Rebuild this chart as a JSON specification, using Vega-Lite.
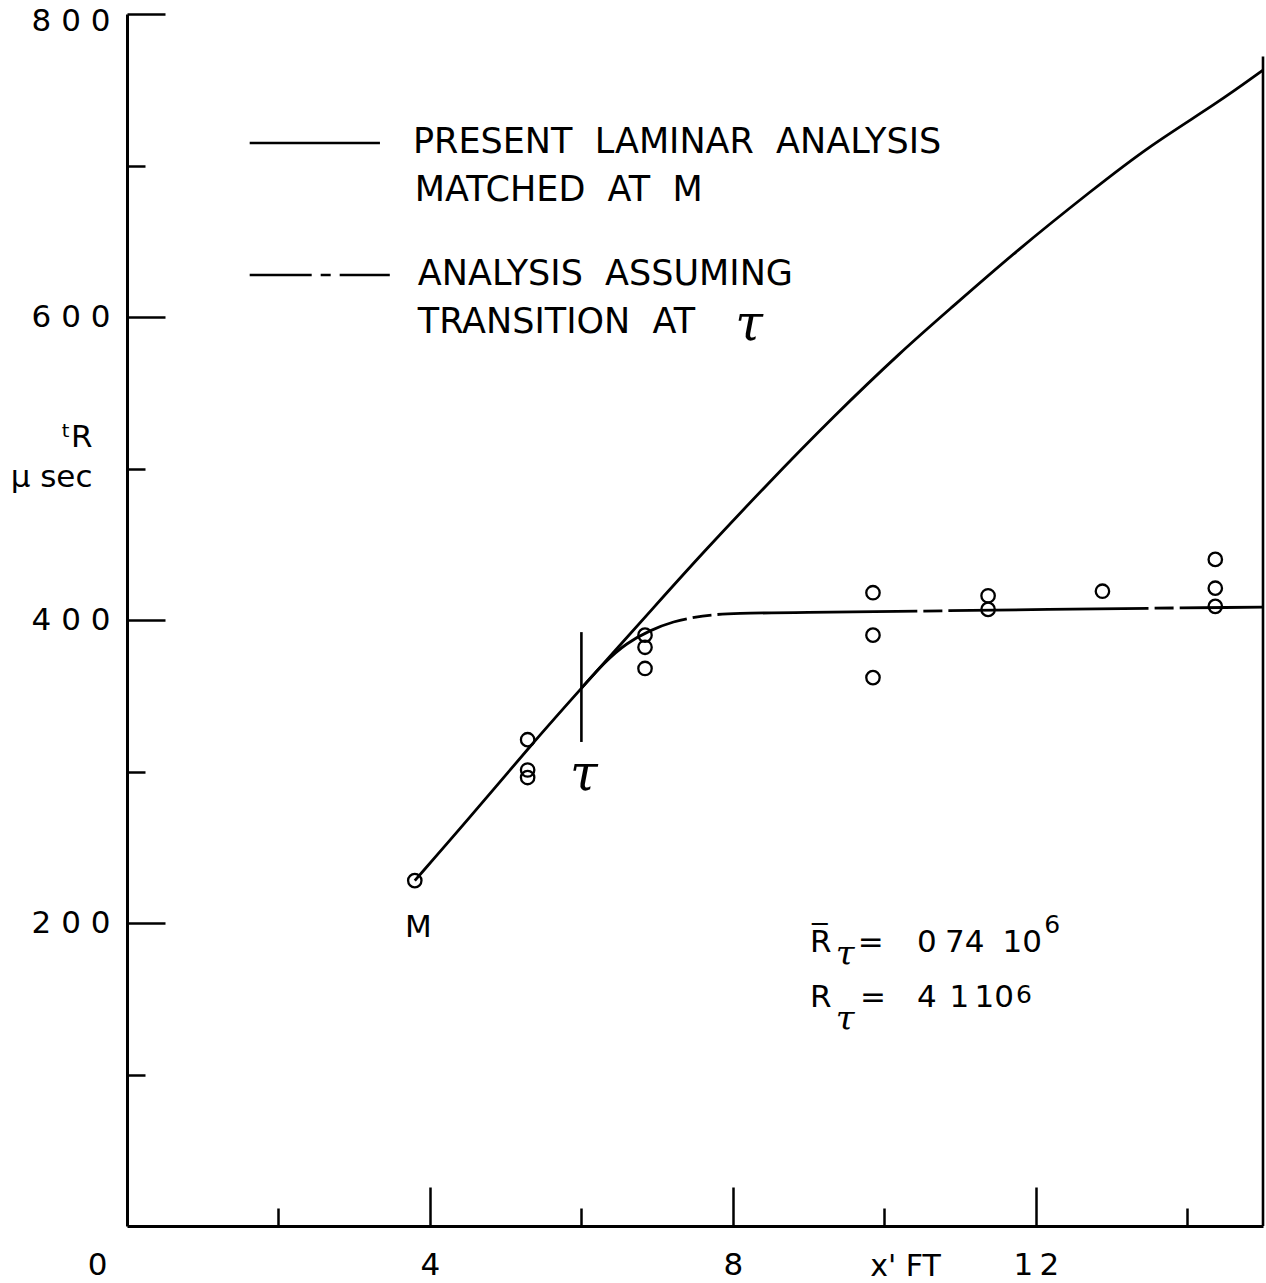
{
  "$schema": "https://vega.github.io/schema/vega-lite/v6.json",
  "width": 1136,
  "height": 1212,
  "autosize": {"type": "none"},
  "padding": {"left": 127, "top": 14, "right": 3, "bottom": 57},
  "background": "white",
  "config": {
    "view": {"stroke": null},
    "font": "DejaVu Sans",
    "axis": {"grid": false, "domainColor": "black", "tickColor": "black", "labelColor": "black", "titleColor": "black", "labelFont": "DejaVu Sans", "titleFont": "DejaVu Sans"}
  },
  "datasets": {
    "points": [
      {"x": 3.80, "y": 228}, {"x": 5.29, "y": 321}, {"x": 5.29, "y": 301}, {"x": 5.29, "y": 296},
      {"x": 6.84, "y": 390}, {"x": 6.84, "y": 382}, {"x": 6.84, "y": 368},
      {"x": 9.85, "y": 418}, {"x": 9.85, "y": 390}, {"x": 9.85, "y": 362},
      {"x": 11.37, "y": 416}, {"x": 11.37, "y": 407}, {"x": 12.88, "y": 419},
      {"x": 14.37, "y": 440}, {"x": 14.37, "y": 421}, {"x": 14.37, "y": 409}
    ],
    "laminar": [
      {"x": 3.80, "y": 228}, {"x": 4.5, "y": 268}, {"x": 5.36, "y": 319}, {"x": 6.0, "y": 355},
      {"x": 7.04, "y": 413}, {"x": 7.56, "y": 442}, {"x": 8.46, "y": 490}, {"x": 9.32, "y": 534},
      {"x": 10.24, "y": 578}, {"x": 10.86, "y": 605}, {"x": 11.75, "y": 644}, {"x": 12.75, "y": 684},
      {"x": 13.5, "y": 713}, {"x": 14.39, "y": 741}, {"x": 15.0, "y": 763}
    ],
    "transition": [
      {"x": 6.0, "y": 355}, {"x": 6.3, "y": 372}, {"x": 6.6, "y": 385}, {"x": 6.9, "y": 393},
      {"x": 7.2, "y": 399}, {"x": 7.6, "y": 403}, {"x": 8.0, "y": 404.5}, {"x": 9.0, "y": 405},
      {"x": 10.0, "y": 405.5}, {"x": 12.0, "y": 407}, {"x": 15.0, "y": 408.5}
    ],
    "solidRules": [
      {"x": 1.62, "x2": 3.34, "y": 714.9, "y2": 714.9},
      {"x": 6.0, "x2": 6.0, "y": 319.5, "y2": 392},
      {"x": 15.0, "x2": 15.0, "y": 0, "y2": 772}
    ],
    "dashRules": [
      {"x": 1.62, "x2": 3.47, "y": 627.7, "y2": 627.7}
    ],
    "legendText": [
      {"x": 3.776, "y": 708.3, "text": "PRESENT\u00a0\u00a0LAMINAR\u00a0\u00a0ANALYSIS"},
      {"x": 3.80, "y": 676.6, "text": "MATCHED\u00a0\u00a0AT\u00a0\u00a0M"},
      {"x": 3.84, "y": 621.1, "text": "ANALYSIS\u00a0\u00a0ASSUMING"},
      {"x": 3.84, "y": 589.4, "text": "TRANSITION\u00a0\u00a0AT"}
    ],
    "eqText": [
      {"x": 3.67, "y": 190.8, "text": "M"},
      {"x": 9.02, "y": 180.9, "text": "R\u0305"},
      {"x": 9.65, "y": 180.9, "text": "="},
      {"x": 10.43, "y": 180.9, "text": "0"},
      {"x": 10.80, "y": 180.9, "text": "74"},
      {"x": 11.56, "y": 180.9, "text": "10"},
      {"x": 9.02, "y": 144.6, "text": "R"},
      {"x": 9.68, "y": 144.6, "text": "="},
      {"x": 10.43, "y": 144.6, "text": "4"},
      {"x": 10.86, "y": 144.6, "text": "1"},
      {"x": 11.19, "y": 144.6, "text": "10"}
    ],
    "supText": [
      {"x": 12.11, "y": 193.4, "text": "6"},
      {"x": 11.74, "y": 147.2, "text": "6"}
    ],
    "tauBig": [
      {"x": 5.85, "y": 287.8, "text": "τ"},
      {"x": 8.03, "y": 584.8, "text": "τ"}
    ],
    "tauSub": [
      {"x": 9.36, "y": 172.3, "text": "τ"},
      {"x": 9.36, "y": 129.4, "text": "τ"}
    ]
  },
  "resolve": {"axis": {"x": "independent", "y": "independent"}},
  "layer": [
    {
      "data": {"name": "points"},
      "mark": {"type": "point", "shape": "circle", "filled": false, "stroke": "black", "strokeWidth": 2.3, "size": 180, "opacity": 1},
      "encoding": {
        "x": {"field": "x", "type": "quantitative", "scale": {"domain": [0, 15], "nice": false, "zero": false},
          "axis": {"orient": "bottom", "values": [0, 4, 8, 12], "ticks": false, "domainWidth": 3, "labelFontSize": 31, "labelPadding": 24, "labelFlush": false, "labelOverlap": false,
            "labelOffset": {"condition": {"test": "datum.value === 0", "value": -30}, "value": 0},
            "labelExpr": "join(split(datum.label, ''), '\u2009')",
            "title": "x' FT", "titleFontSize": 30, "titleFontWeight": "normal", "titleX": 778, "titleY": 49, "titleAlign": "center", "titleBaseline": "alphabetic"}},
        "y": {"field": "y", "type": "quantitative", "scale": {"domain": [0, 800], "nice": false, "zero": true},
          "axis": {"orient": "left", "values": [200, 400, 600, 800], "ticks": false, "domainWidth": 3, "labelFontSize": 31, "labelPadding": 17, "labelOverlap": false, "labelFlush": false,
            "labelOffset": {"condition": {"test": "datum.value === 800", "value": 7}, "value": 0},
            "labelExpr": "join(split(datum.label, ''), ' ')",
            "title": ["ᵗR", "μ sec"], "titleFontSize": 31, "titleFontWeight": "normal", "titleAngle": 0, "titleAlign": "right", "titleBaseline": "top", "titleX": -35, "titleY": 408, "titleLineHeight": 40}}
      }
    },
    {
      "data": {"name": "laminar"},
      "mark": {"type": "line", "color": "black", "strokeWidth": 2.8, "interpolate": "basis"},
      "encoding": {
        "x": {"field": "x", "type": "quantitative", "axis": {"orient": "bottom", "values": [4, 8, 12], "tickSize": -39, "tickWidth": 2.5, "labels": false, "domain": false, "title": null}},
        "y": {"field": "y", "type": "quantitative", "axis": {"orient": "left", "values": [200, 400, 600, 800], "tickSize": -38, "tickWidth": 2.5, "labels": false, "domain": false, "title": null}}
      }
    },
    {
      "data": {"name": "transition"},
      "mark": {"type": "line", "color": "black", "strokeWidth": 2.8, "interpolate": "basis", "strokeDash": [200, 6, 19, 6], "strokeDashOffset": 71},
      "encoding": {
        "x": {"field": "x", "type": "quantitative", "axis": {"orient": "bottom", "values": [2, 6, 10, 14], "tickSize": -18, "tickWidth": 2.5, "labels": false, "domain": false, "title": null}},
        "y": {"field": "y", "type": "quantitative", "axis": {"orient": "left", "values": [100, 300, 500, 700], "tickSize": -18, "tickWidth": 2.5, "labels": false, "domain": false, "title": null}}
      }
    },
    {
      "data": {"name": "solidRules"},
      "mark": {"type": "rule", "color": "black", "strokeWidth": 2.6},
      "encoding": {
        "x": {"field": "x", "type": "quantitative", "axis": null},
        "x2": {"field": "x2"},
        "y": {"field": "y", "type": "quantitative", "axis": null},
        "y2": {"field": "y2"}
      }
    },
    {
      "data": {"name": "dashRules"},
      "mark": {"type": "rule", "color": "black", "strokeWidth": 2.6, "strokeDash": [62, 9, 10, 9]},
      "encoding": {
        "x": {"field": "x", "type": "quantitative", "axis": null},
        "x2": {"field": "x2"},
        "y": {"field": "y", "type": "quantitative", "axis": null},
        "y2": {"field": "y2"}
      }
    },
    {
      "data": {"name": "legendText"},
      "mark": {"type": "text", "font": "DejaVu Sans", "fontSize": 35, "align": "left", "baseline": "alphabetic", "color": "black"},
      "encoding": {
        "x": {"field": "x", "type": "quantitative", "axis": null},
        "y": {"field": "y", "type": "quantitative", "axis": null},
        "text": {"field": "text"}
      }
    },
    {
      "data": {"name": "eqText"},
      "mark": {"type": "text", "font": "DejaVu Sans", "fontSize": 31, "align": "left", "baseline": "alphabetic", "color": "black"},
      "encoding": {
        "x": {"field": "x", "type": "quantitative", "axis": null},
        "y": {"field": "y", "type": "quantitative", "axis": null},
        "text": {"field": "text"}
      }
    },
    {
      "data": {"name": "supText"},
      "mark": {"type": "text", "font": "DejaVu Sans", "fontSize": 25, "align": "left", "baseline": "alphabetic", "color": "black"},
      "encoding": {
        "x": {"field": "x", "type": "quantitative", "axis": null},
        "y": {"field": "y", "type": "quantitative", "axis": null},
        "text": {"field": "text"}
      }
    },
    {
      "data": {"name": "tauBig"},
      "mark": {"type": "text", "font": "DejaVu Serif", "fontStyle": "italic", "fontSize": 50, "align": "left", "baseline": "alphabetic", "color": "black"},
      "encoding": {
        "x": {"field": "x", "type": "quantitative", "axis": null},
        "y": {"field": "y", "type": "quantitative", "axis": null},
        "text": {"field": "text"}
      }
    },
    {
      "data": {"name": "tauSub"},
      "mark": {"type": "text", "font": "DejaVu Serif", "fontStyle": "italic", "fontSize": 34, "align": "left", "baseline": "alphabetic", "color": "black"},
      "encoding": {
        "x": {"field": "x", "type": "quantitative", "axis": null},
        "y": {"field": "y", "type": "quantitative", "axis": null},
        "text": {"field": "text"}
      }
    }
  ]
}
